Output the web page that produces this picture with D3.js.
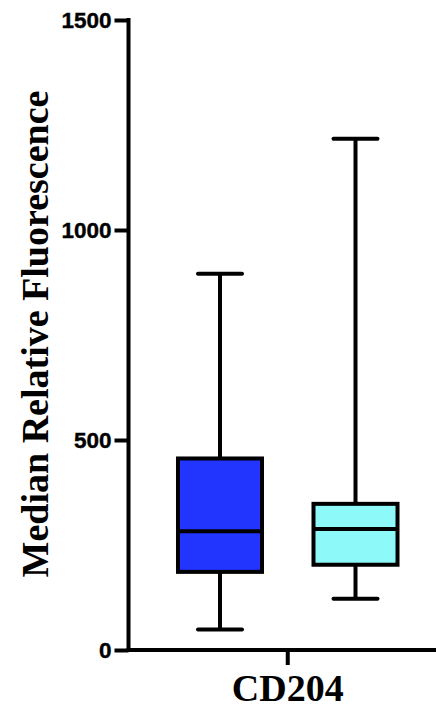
<!DOCTYPE html>
<html><head><meta charset="utf-8">
<script src="https://cdn.jsdelivr.net/npm/d3@7"></script>
<style>
html,body{margin:0;padding:0;background:#fff;}
svg{display:block;}
</style></head>
<body>
<script>
const groups = ["CD204-A", "CD204-B"];
const mins = [49, 122];
const q1s = [186, 203];
const medians = [283, 288];
const q3s = [456, 348];
const maxs = [896, 1217];
const colors = ["#2135FF", "#8DF9F9"];
const yTicks = [0, 500, 1000, 1500];
const xLabel = "CD204";
const yLabel = "Median Relative Fluorescence";

const W = 436, H = 709;
const svg = d3.select("body").append("svg").attr("width", W).attr("height", H);

const y = d3.scaleLinear().domain([0, 1500]).range([650, 20]);
const x = d3.scaleBand().domain(groups).range([152.25, 423.25]).paddingInner(0).paddingOuter(0);
const axisX0 = 128.5;

const boxW = x.bandwidth() * 0.62;
const capW = 44;
const sw = 4;

const g = svg.append("g");
groups.forEach((k, i) => {
  const cx = x(k) + x.bandwidth() / 2;
  g.append("line").attr("x1", cx).attr("x2", cx).attr("y1", y(q3s[i])).attr("y2", y(maxs[i]))
    .attr("stroke", "#000").attr("stroke-width", sw);
  g.append("line").attr("x1", cx).attr("x2", cx).attr("y1", y(q1s[i])).attr("y2", y(mins[i]))
    .attr("stroke", "#000").attr("stroke-width", sw);
  [maxs[i], mins[i]].forEach(v => {
    g.append("line").attr("x1", cx - capW / 2).attr("x2", cx + capW / 2).attr("y1", y(v)).attr("y2", y(v))
      .attr("stroke", "#000").attr("stroke-width", sw).attr("stroke-linecap", "round");
  });
  g.append("rect").attr("x", cx - boxW / 2).attr("width", boxW)
    .attr("y", y(q3s[i])).attr("height", y(q1s[i]) - y(q3s[i]))
    .attr("fill", colors[i]).attr("stroke", "#000").attr("stroke-width", sw);
  g.append("line").attr("x1", cx - boxW / 2).attr("x2", cx + boxW / 2)
    .attr("y1", y(medians[i])).attr("y2", y(medians[i]))
    .attr("stroke", "#000").attr("stroke-width", sw);
});

const yAxis = d3.axisLeft(y).tickValues(yTicks).tickSize(14).tickSizeOuter(0).tickPadding(3).tickFormat(d3.format("d"));
const ya = svg.append("g").attr("transform", `translate(${axisX0},0)`).call(yAxis);
ya.select(".domain").remove();
ya.selectAll(".tick line").attr("stroke", "#000").attr("stroke-width", sw);
ya.selectAll(".tick text").attr("font-family", "'Liberation Sans', Arial, sans-serif")
  .attr("font-weight", "bold").attr("font-size", 22.5).attr("fill", "#000")
  .attr("stroke", "#000").attr("stroke-width", 0.4);
svg.append("line").attr("x1", axisX0).attr("x2", axisX0).attr("y1", y(1500) - 2).attr("y2", y(0) + 2)
  .attr("stroke", "#000").attr("stroke-width", sw);

svg.append("line").attr("x1", axisX0 - 2).attr("x2", W).attr("y1", y(0)).attr("y2", y(0))
  .attr("stroke", "#000").attr("stroke-width", sw);
const midX = (x(groups[0]) + x(groups[1]) + x.bandwidth()) / 2;
svg.append("line").attr("x1", midX).attr("x2", midX).attr("y1", y(0)).attr("y2", y(0) + 15)
  .attr("stroke", "#000").attr("stroke-width", sw);
svg.append("text").attr("x", midX).attr("y", 701).attr("text-anchor", "middle")
  .attr("font-family", "'Liberation Serif', 'Times New Roman', serif").attr("font-weight", "bold")
  .attr("font-size", 38).text(xLabel);

svg.append("text").attr("transform", "translate(48,334) rotate(-90)").attr("text-anchor", "middle")
  .attr("font-family", "'Liberation Serif', 'Times New Roman', serif").attr("font-weight", "bold")
  .attr("font-size", 38).text(yLabel);
</script>
</body></html>
